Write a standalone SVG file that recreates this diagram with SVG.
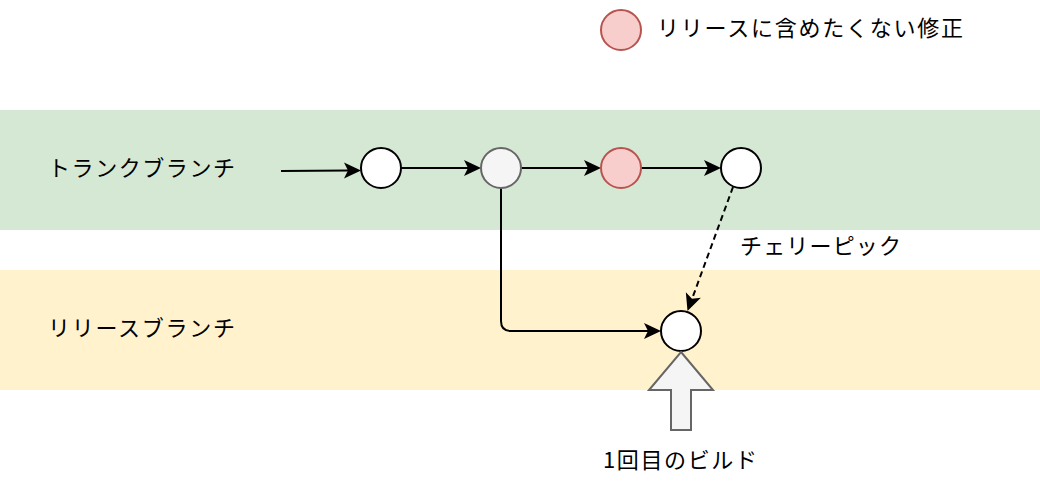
<svg xmlns="http://www.w3.org/2000/svg" width="1040" height="490" viewBox="0 0 1040 490">
<defs>
<style>
.t{font-family:"Noto Sans CJK JP","Noto Sans",sans-serif;font-size:22px;fill:#000}
.n{fill:#ffffff;stroke:#000;stroke-width:2}
.g{fill:#f5f5f5;stroke:#666666;stroke-width:2}
.r{fill:#f8cecc;stroke:#b85450;stroke-width:2}
.e{fill:none;stroke:#000;stroke-width:2}
</style>
<path id="head" d="M0,0 L-17,-8 L-13,0 L-17,8 Z" fill="#000"/>
</defs>
<rect width="1040" height="490" fill="#ffffff"/>
<g id="lanes">
<rect id="trunk-lane" x="0" y="110" width="1040" height="120" fill="#d5e8d4"/>
<rect id="release-lane" x="0" y="270" width="1040" height="120" fill="#fff2cc"/>
<text class="t" x="48" y="176" textLength="187" lengthAdjust="spacing">トランクブランチ</text>
<text class="t" x="48" y="336" textLength="187" lengthAdjust="spacing">リリースブランチ</text>
</g>
<g id="legend">
<circle class="r" cx="621" cy="30" r="20"/>
<text class="t" x="657" y="36" textLength="306" lengthAdjust="spacing">リリースに含めたくない修正</text>
</g>
<g id="connectors">
<line class="e" x1="281" y1="171" x2="348" y2="170.6"/>
<use href="#head" transform="translate(361,170.5)"/>
<line class="e" x1="401" y1="168" x2="468" y2="168"/>
<use href="#head" transform="translate(481,168)"/>
<line class="e" x1="521" y1="168" x2="588" y2="168"/>
<use href="#head" transform="translate(601,168)"/>
<line class="e" x1="641" y1="168" x2="708" y2="168"/>
<use href="#head" transform="translate(721,168)"/>
<path class="e" d="M501,188 V321 Q501,331 511,331 H648"/>
<use href="#head" transform="translate(661,331)"/>
<line class="e" x1="733" y1="187" x2="692" y2="299" stroke-dasharray="6 4"/>
<use href="#head" transform="translate(687.5,311) rotate(110.15)"/>
</g>
<g id="n1"><circle class="n" cx="381" cy="168" r="20"/></g>
<g id="n2"><circle class="g" cx="501" cy="168" r="20"/></g>
<g id="n3"><circle class="r" cx="621" cy="168" r="20"/></g>
<g id="n4"><circle class="n" cx="741" cy="168" r="20"/></g>
<g id="n5"><circle class="n" cx="681" cy="331" r="20"/></g>
<g id="cherry-label"><text class="t" x="740" y="254" textLength="161" lengthAdjust="spacing">チェリーピック</text></g>
<g id="build-arrow">
<path d="M681,352 L713,390 L691,390 L691,430 L671,430 L671,390 L649,390 Z" fill="#f5f5f5" stroke="#666666" stroke-width="2"/>
<text class="t" x="603" y="468" textLength="154" lengthAdjust="spacing">1回目のビルド</text>
</g>
</svg>
